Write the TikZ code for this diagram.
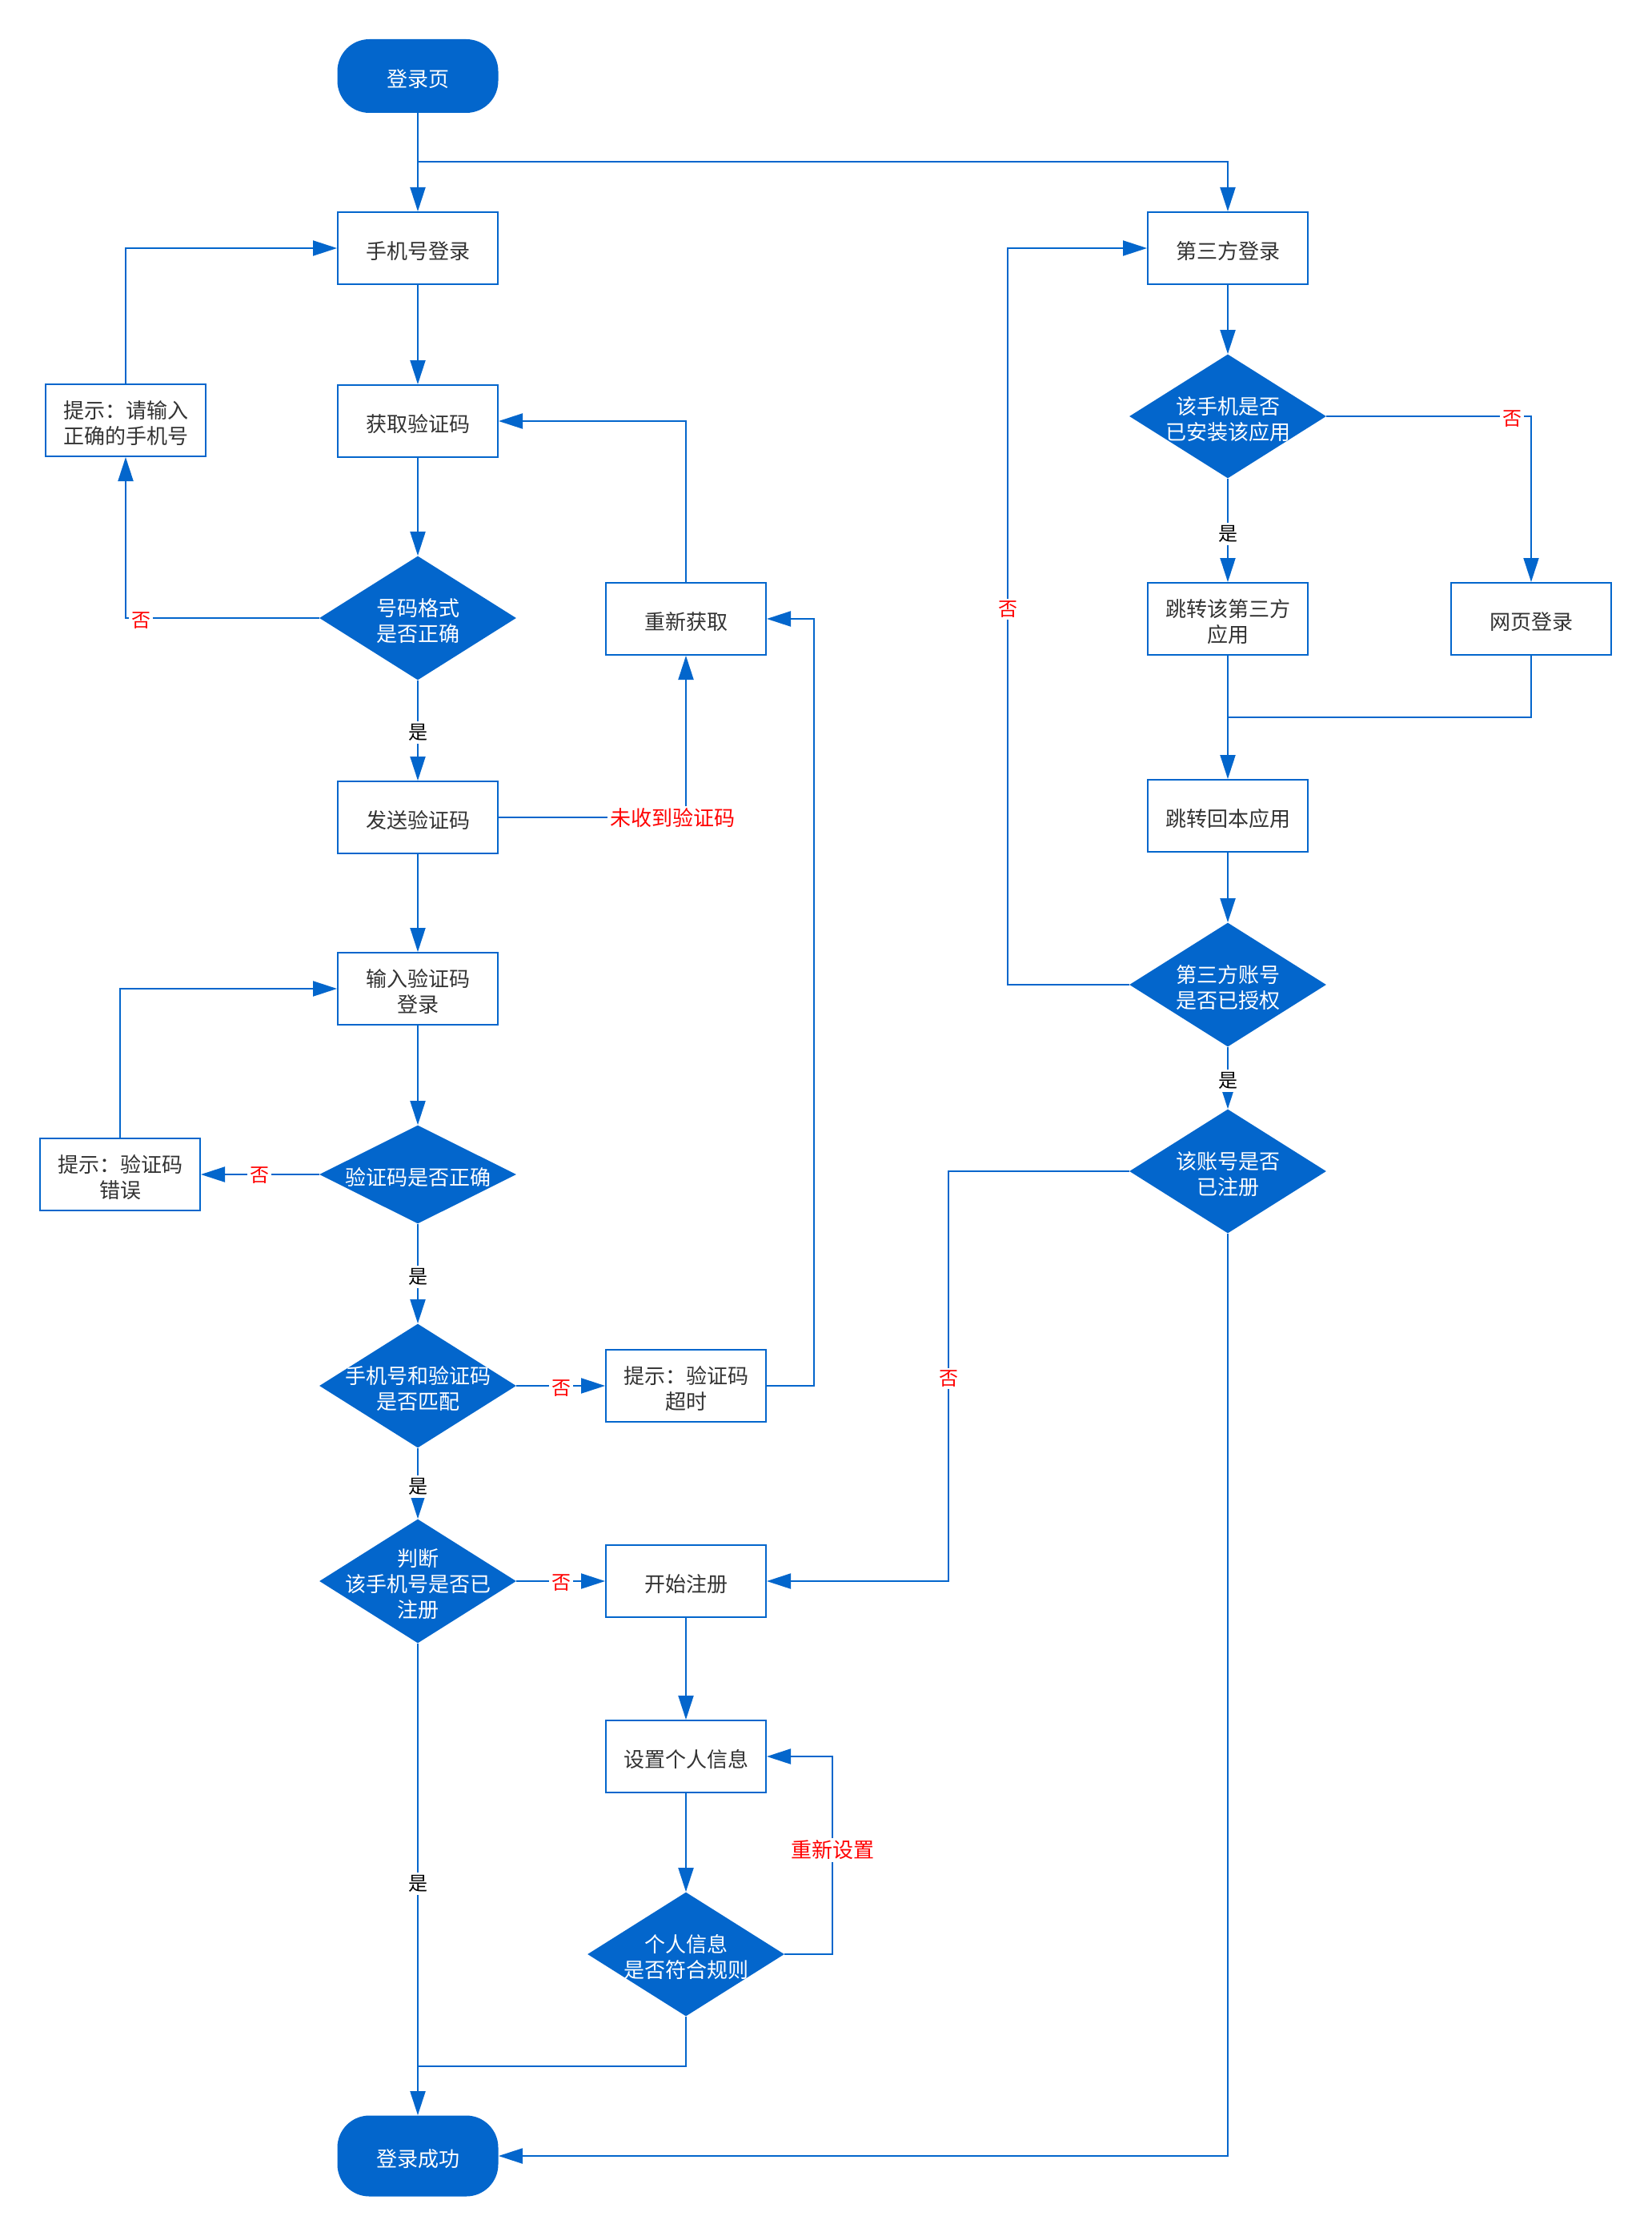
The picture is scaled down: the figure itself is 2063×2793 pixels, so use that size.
\documentclass[tikz,border=0pt]{standalone}
\usepackage{fontspec}
\setmainfont{Noto Sans CJK SC}
\usetikzlibrary{arrows.meta,shapes.geometric}
\definecolor{fblue}{RGB}{3,102,204}
\definecolor{ftext}{RGB}{51,51,51}
\definecolor{fred}{RGB}{255,0,0}
\begin{document}
\begin{tikzpicture}[x=0.5pt,y=-0.5pt,
  font=\fontsize{13pt}{16pt}\selectfont,
  box/.style={draw=fblue, line width=1pt, fill=white, minimum width=100pt, minimum height=45pt, inner sep=0pt},
  btext/.style={text=ftext, align=center, inner sep=0pt, yshift=-1.75pt},
  term/.style={fill=fblue, rounded corners=20pt, minimum width=100.5pt, minimum height=46pt, inner sep=0pt},
  dia/.style={diamond, fill=fblue, minimum width=123pt, minimum height=77.5pt, inner sep=0pt},
  dtext/.style={text=white, align=center, inner sep=0pt, yshift=-1.75pt},
  conn/.style={draw=fblue, line width=1pt, -{Triangle[length=15pt,width=9.5pt]}},
  wire/.style={draw=fblue, line width=1pt},
  yes/.style={fill=white, text=black, inner sep=1.5pt, font=\fontsize{12pt}{14pt}\selectfont},
  no/.style={fill=white, text=fred, inner sep=1.5pt, font=\fontsize{12pt}{14pt}\selectfont},
]
\fill[white] (0,0) rectangle (2063,2793);
\useasboundingbox (0,0) rectangle (2063,2793);

% left column
\node[term] (start) at (522,95) {};
\node[dtext] (startt) at (start) {登录页};
\node[box] (phone) at (522,310) {};
\node[btext] (phonet) at (phone) {手机号登录};
\node[box] (getcode) at (522,526) {};
\node[btext] (getcodet) at (getcode) {获取验证码};
\node[box] (hint1) at (157,525) {};
\node[btext] (hint1t) at (hint1) {提示：请输入\\正确的手机号};
\node[dia] (d1) at (522,772) {};
\node[dtext] (d1t) at (d1) {号码格式\\是否正确};
\node[box] (reget) at (857,773) {};
\node[btext] (regett) at (reget) {重新获取};
\node[box] (send) at (522,1021) {};
\node[btext] (sendt) at (send) {发送验证码};
\node[box] (input) at (522,1235) {};
\node[btext] (inputt) at (input) {输入验证码\\登录};
\node[box] (hint2) at (150,1467) {};
\node[btext] (hint2t) at (hint2) {提示：验证码\\错误};
\node[dia, minimum height=61.5pt] (d2) at (522,1467) {};
\node[dtext] (d2t) at (d2) {验证码是否正确};
\node[dia] (d3) at (522,1731) {};
\node[dtext] (d3t) at (d3) {手机号和验证码\\是否匹配};
\node[box] (hint3) at (857,1731) {};
\node[btext] (hint3t) at (hint3) {提示：验证码\\超时};
\node[dia] (d4) at (522,1975) {};
\node[dtext] (d4t) at (d4) {判断\\该手机号是否已\\注册};
\node[box] (reg) at (857,1975) {};
\node[btext] (regt) at (reg) {开始注册};
\node[box] (setinfo) at (857,2194) {};
\node[btext] (setinfot) at (setinfo) {设置个人信息};
\node[dia] (d5) at (857,2441) {};
\node[dtext] (d5t) at (d5) {个人信息\\是否符合规则};
\node[term, minimum height=50.5pt] (ok) at (522,2693) {};
\node[dtext] (okt) at (ok) {登录成功};

% right column
\node[box] (third) at (1534,310) {};
\node[btext] (thirdt) at (third) {第三方登录};
\node[dia] (d6) at (1534,520) {};
\node[dtext] (d6t) at (d6) {该手机是否\\已安装该应用};
\node[box] (jump) at (1534,773) {};
\node[btext] (jumpt) at (jump) {跳转该第三方\\应用};
\node[box] (web) at (1913,773) {};
\node[btext] (webt) at (web) {网页登录};
\node[box] (back) at (1534,1019) {};
\node[btext] (backt) at (back) {跳转回本应用};
\node[dia] (d7) at (1534,1230) {};
\node[dtext] (d7t) at (d7) {第三方账号\\是否已授权};
\node[dia] (d8) at (1534,1463) {};
\node[dtext] (d8t) at (d8) {该账号是否\\已注册};

% helper coordinates
\coordinate (br) at (522,202);
\coordinate (c1) at (1017,1731);
\coordinate (c2) at (1040,2441);
\coordinate (c3) at (522,2581);
\coordinate (c4) at (1534,896);
\coordinate (c5) at (1259,1230);
\coordinate (c6) at (1185,1463);

% connectors left
\draw[conn] (start) -- (phone);
\draw[conn] (br) -| (third);
\draw[conn] (phone) -- (getcode);
\draw[conn] (getcode) -- (d1);
\draw[conn] (d1.west) -| (hint1.south);
\draw[conn] (hint1.north) |- (phone.west);
\draw[conn] (d1) -- (send);
\draw[conn] (send.east) -| (reget.south);
\draw[conn] (reget.north) |- (getcode.east);
\draw[conn] (send) -- (input);
\draw[conn] (input) -- (d2);
\draw[conn] (d2.west) -- (hint2.east);
\draw[conn] (hint2.north) |- (input.west);
\draw[conn] (d2) -- (d3);
\draw[conn] (d3.east) -- (hint3.west);
\draw[conn] (hint3.east) -- (c1) |- (reget.east);
\draw[conn] (d3) -- (d4);
\draw[conn] (d4.east) -- (reg.west);
\draw[conn] (d4) -- (ok);
\draw[conn] (reg) -- (setinfo);
\draw[conn] (setinfo) -- (d5);
\draw[conn] (d5.east) -- (c2) |- (setinfo.east);
\draw[wire] (d5.south) |- (c3);

% connectors right
\draw[conn] (third) -- (d6);
\draw[conn] (d6) -- (jump);
\draw[conn] (d6.east) -| (web.north);
\draw[conn] (jump) -- (back);
\draw[wire] (web.south) |- (c4);
\draw[conn] (back) -- (d7);
\draw[conn] (d7.west) -- (c5) |- (third.west);
\draw[conn] (d7) -- (d8);
\draw[conn] (d8.west) -- (c6) |- (reg.east);
\draw[conn] (d8.south) |- (ok.east);

% labels
\node[no] (l1) at (176,775) {否};
\node[yes] (l2) at (522,915) {是};
\node[no, font=\fontsize{13pt}{15pt}\selectfont] (l3) at (840,1022) {未收到验证码};
\node[no] (l4) at (324,1468) {否};
\node[yes] (l5) at (522,1595) {是};
\node[no] (l6) at (701,1734) {否};
\node[yes] (l7) at (522,1857) {是};
\node[no] (l8) at (701,1977) {否};
\node[yes] (l9) at (522,2353) {是};
\node[no, font=\fontsize{13pt}{15pt}\selectfont] (l10) at (1040,2311) {重新设置};
\node[yes] (l11) at (1534,667) {是};
\node[no] (l12) at (1889,523) {否};
\node[no] (l13) at (1259,761) {否};
\node[yes] (l14) at (1534,1350) {是};
\node[no] (l15) at (1185,1722) {否};
\end{tikzpicture}
\end{document}
